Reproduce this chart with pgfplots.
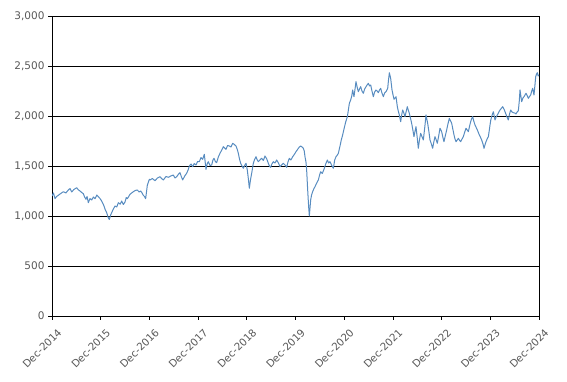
\documentclass[border=0pt]{standalone}
\usepackage{pgfplots}
\pgfplotsset{compat=1.18}
\usepackage{fontspec}
\setmainfont{DejaVu Sans}
\definecolor{linec}{RGB}{88,140,192}
\definecolor{txt}{RGB}{89,89,89}
\begin{document}
\begin{tikzpicture}[x=1pt,y=1pt]
\useasboundingbox (0,0) rectangle (567,382);
\begin{axis}[
  at={(52pt,66pt)}, anchor=south west,
  scale only axis, width=487pt, height=300pt,
  xmin=0, xmax=10, ymin=0, ymax=3000,
  xtick={0,1,2,3,4,5,6,7,8,9,10},
  xticklabels={Dec-2014,Dec-2015,Dec-2016,Dec-2017,Dec-2018,Dec-2019,Dec-2020,Dec-2021,Dec-2022,Dec-2023,Dec-2024},
  ytick={0,500,1000,1500,2000,2500,3000},
  ymajorgrids,
  grid style={black, line width=0.8pt},
  axis line style={black, line width=0.8pt},
  tick style={black, line width=0.8pt},
  tick align=outside, major tick length=4pt,
  xtick pos=bottom, ytick pos=left,
  scaled y ticks=false,
  yticklabel style={font=\fontsize{10.5}{12}\selectfont, text=txt, /pgf/number format/.cd, 1000 sep={,}, assume math mode=true},
  xticklabel style={font=\fontsize{10.3}{12}\selectfont, text=txt, rotate=45, anchor=north east, inner sep=1pt, yshift=-8pt, xshift=-1pt},
]
\addplot[linec, line width=1pt, line join=round] table[x=x, y=y] {
x y
0.000 1200
0.030 1230
0.062 1174
0.095 1195
0.130 1207
0.180 1225
0.233 1243
0.285 1230
0.335 1260
0.370 1275
0.404 1240
0.450 1265
0.507 1283
0.540 1262
0.575 1250
0.610 1235
0.643 1223
0.670 1190
0.698 1167
0.720 1195
0.746 1133
0.780 1175
0.815 1160
0.850 1190
0.883 1173
0.920 1210
0.951 1193
0.985 1175
1.020 1150
1.045 1125
1.068 1100
1.095 1060
1.123 1033
1.150 990
1.177 965
1.200 1005
1.225 1033
1.260 1070
1.294 1100
1.330 1090
1.362 1133
1.400 1118
1.431 1150
1.465 1115
1.499 1140
1.525 1185
1.547 1173
1.575 1195
1.602 1217
1.635 1230
1.670 1243
1.710 1255
1.752 1260
1.790 1240
1.821 1250
1.850 1230
1.875 1207
1.900 1195
1.923 1173
1.957 1307
1.999 1367
2.012 1360
2.060 1375
2.115 1353
2.165 1380
2.218 1393
2.250 1375
2.286 1360
2.340 1395
2.389 1387
2.440 1400
2.491 1410
2.525 1380
2.560 1393
2.600 1420
2.628 1433
2.655 1395
2.683 1360
2.725 1400
2.765 1427
2.795 1460
2.820 1500
2.855 1520
2.888 1493
2.920 1525
2.957 1510
2.990 1545
3.025 1543
3.060 1585
3.094 1567
3.128 1617
3.162 1467
3.185 1520
3.210 1543
3.245 1505
3.279 1510
3.305 1560
3.326 1577
3.355 1545
3.381 1533
3.415 1590
3.450 1627
3.485 1660
3.518 1693
3.545 1680
3.573 1667
3.605 1705
3.641 1700
3.675 1690
3.710 1727
3.745 1715
3.778 1700
3.805 1665
3.826 1627
3.850 1570
3.874 1527
3.900 1500
3.929 1477
3.955 1505
3.984 1527
4.010 1460
4.031 1377
4.052 1277
4.075 1360
4.100 1427
4.134 1527
4.160 1565
4.189 1593
4.210 1565
4.237 1543
4.270 1560
4.305 1577
4.340 1555
4.374 1600
4.410 1570
4.442 1527
4.465 1500
4.490 1487
4.515 1520
4.545 1543
4.580 1530
4.613 1560
4.650 1530
4.682 1493
4.715 1510
4.750 1527
4.785 1510
4.819 1487
4.845 1540
4.873 1577
4.905 1560
4.942 1593
4.975 1615
5.010 1643
5.035 1660
5.058 1677
5.080 1690
5.106 1700
5.135 1690
5.161 1677
5.180 1650
5.195 1593
5.215 1540
5.229 1460
5.250 1260
5.270 1093
5.284 1000
5.298 1080
5.311 1160
5.330 1210
5.352 1243
5.375 1270
5.400 1293
5.435 1330
5.469 1360
5.495 1410
5.517 1443
5.550 1425
5.585 1467
5.620 1520
5.654 1560
5.680 1530
5.708 1543
5.745 1505
5.777 1477
5.805 1560
5.832 1593
5.860 1610
5.880 1627
5.914 1700
5.940 1760
5.968 1810
5.996 1870
6.030 1940
6.065 1993
6.106 2127
6.133 2160
6.155 2200
6.174 2260
6.201 2193
6.225 2280
6.242 2343
6.265 2290
6.290 2243
6.315 2270
6.338 2293
6.365 2250
6.393 2227
6.420 2270
6.448 2293
6.470 2310
6.496 2327
6.520 2300
6.544 2310
6.570 2250
6.598 2193
6.625 2240
6.653 2260
6.675 2250
6.701 2233
6.725 2260
6.749 2277
6.775 2230
6.804 2193
6.830 2230
6.858 2243
6.893 2277
6.910 2360
6.927 2433
6.954 2377
6.982 2260
7.003 2210
7.023 2167
7.064 2193
7.091 2093
7.110 2050
7.132 2010
7.160 1943
7.180 2010
7.201 2060
7.225 2030
7.248 1993
7.275 2050
7.296 2093
7.315 2060
7.337 2027
7.360 1980
7.385 1927
7.410 1860
7.433 1793
7.455 1850
7.474 1893
7.500 1780
7.522 1677
7.545 1760
7.570 1827
7.600 1790
7.625 1760
7.655 1890
7.680 2010
7.700 1960
7.714 1927
7.740 1840
7.762 1760
7.790 1720
7.816 1677
7.840 1740
7.864 1793
7.890 1760
7.912 1727
7.940 1800
7.967 1877
8.001 1843
8.025 1790
8.049 1743
8.075 1800
8.104 1860
8.130 1920
8.159 1977
8.185 1950
8.207 1927
8.230 1870
8.255 1810
8.275 1770
8.296 1743
8.320 1760
8.344 1777
8.370 1755
8.392 1743
8.420 1770
8.446 1793
8.475 1840
8.501 1877
8.525 1860
8.549 1843
8.575 1900
8.597 1943
8.618 1975
8.638 1993
8.660 1950
8.686 1910
8.710 1885
8.734 1860
8.755 1835
8.775 1810
8.800 1785
8.823 1760
8.850 1720
8.871 1677
8.890 1710
8.912 1743
8.935 1770
8.960 1793
8.980 1860
8.994 1910
9.010 1960
9.028 1993
9.045 2020
9.062 2043
9.080 2000
9.097 1960
9.120 1990
9.144 2010
9.170 2035
9.199 2060
9.225 2075
9.254 2093
9.280 2070
9.302 2043
9.335 2000
9.370 1960
9.395 2020
9.418 2060
9.445 2040
9.473 2033
9.500 2030
9.528 2020
9.550 2040
9.576 2053
9.595 2150
9.610 2260
9.644 2143
9.670 2180
9.692 2193
9.712 2210
9.733 2227
9.760 2200
9.781 2177
9.805 2195
9.829 2210
9.850 2250
9.870 2277
9.897 2210
9.915 2300
9.932 2393
9.950 2420
9.966 2433
9.983 2400
10.000 2410
};
\end{axis}
\end{tikzpicture}
\end{document}
